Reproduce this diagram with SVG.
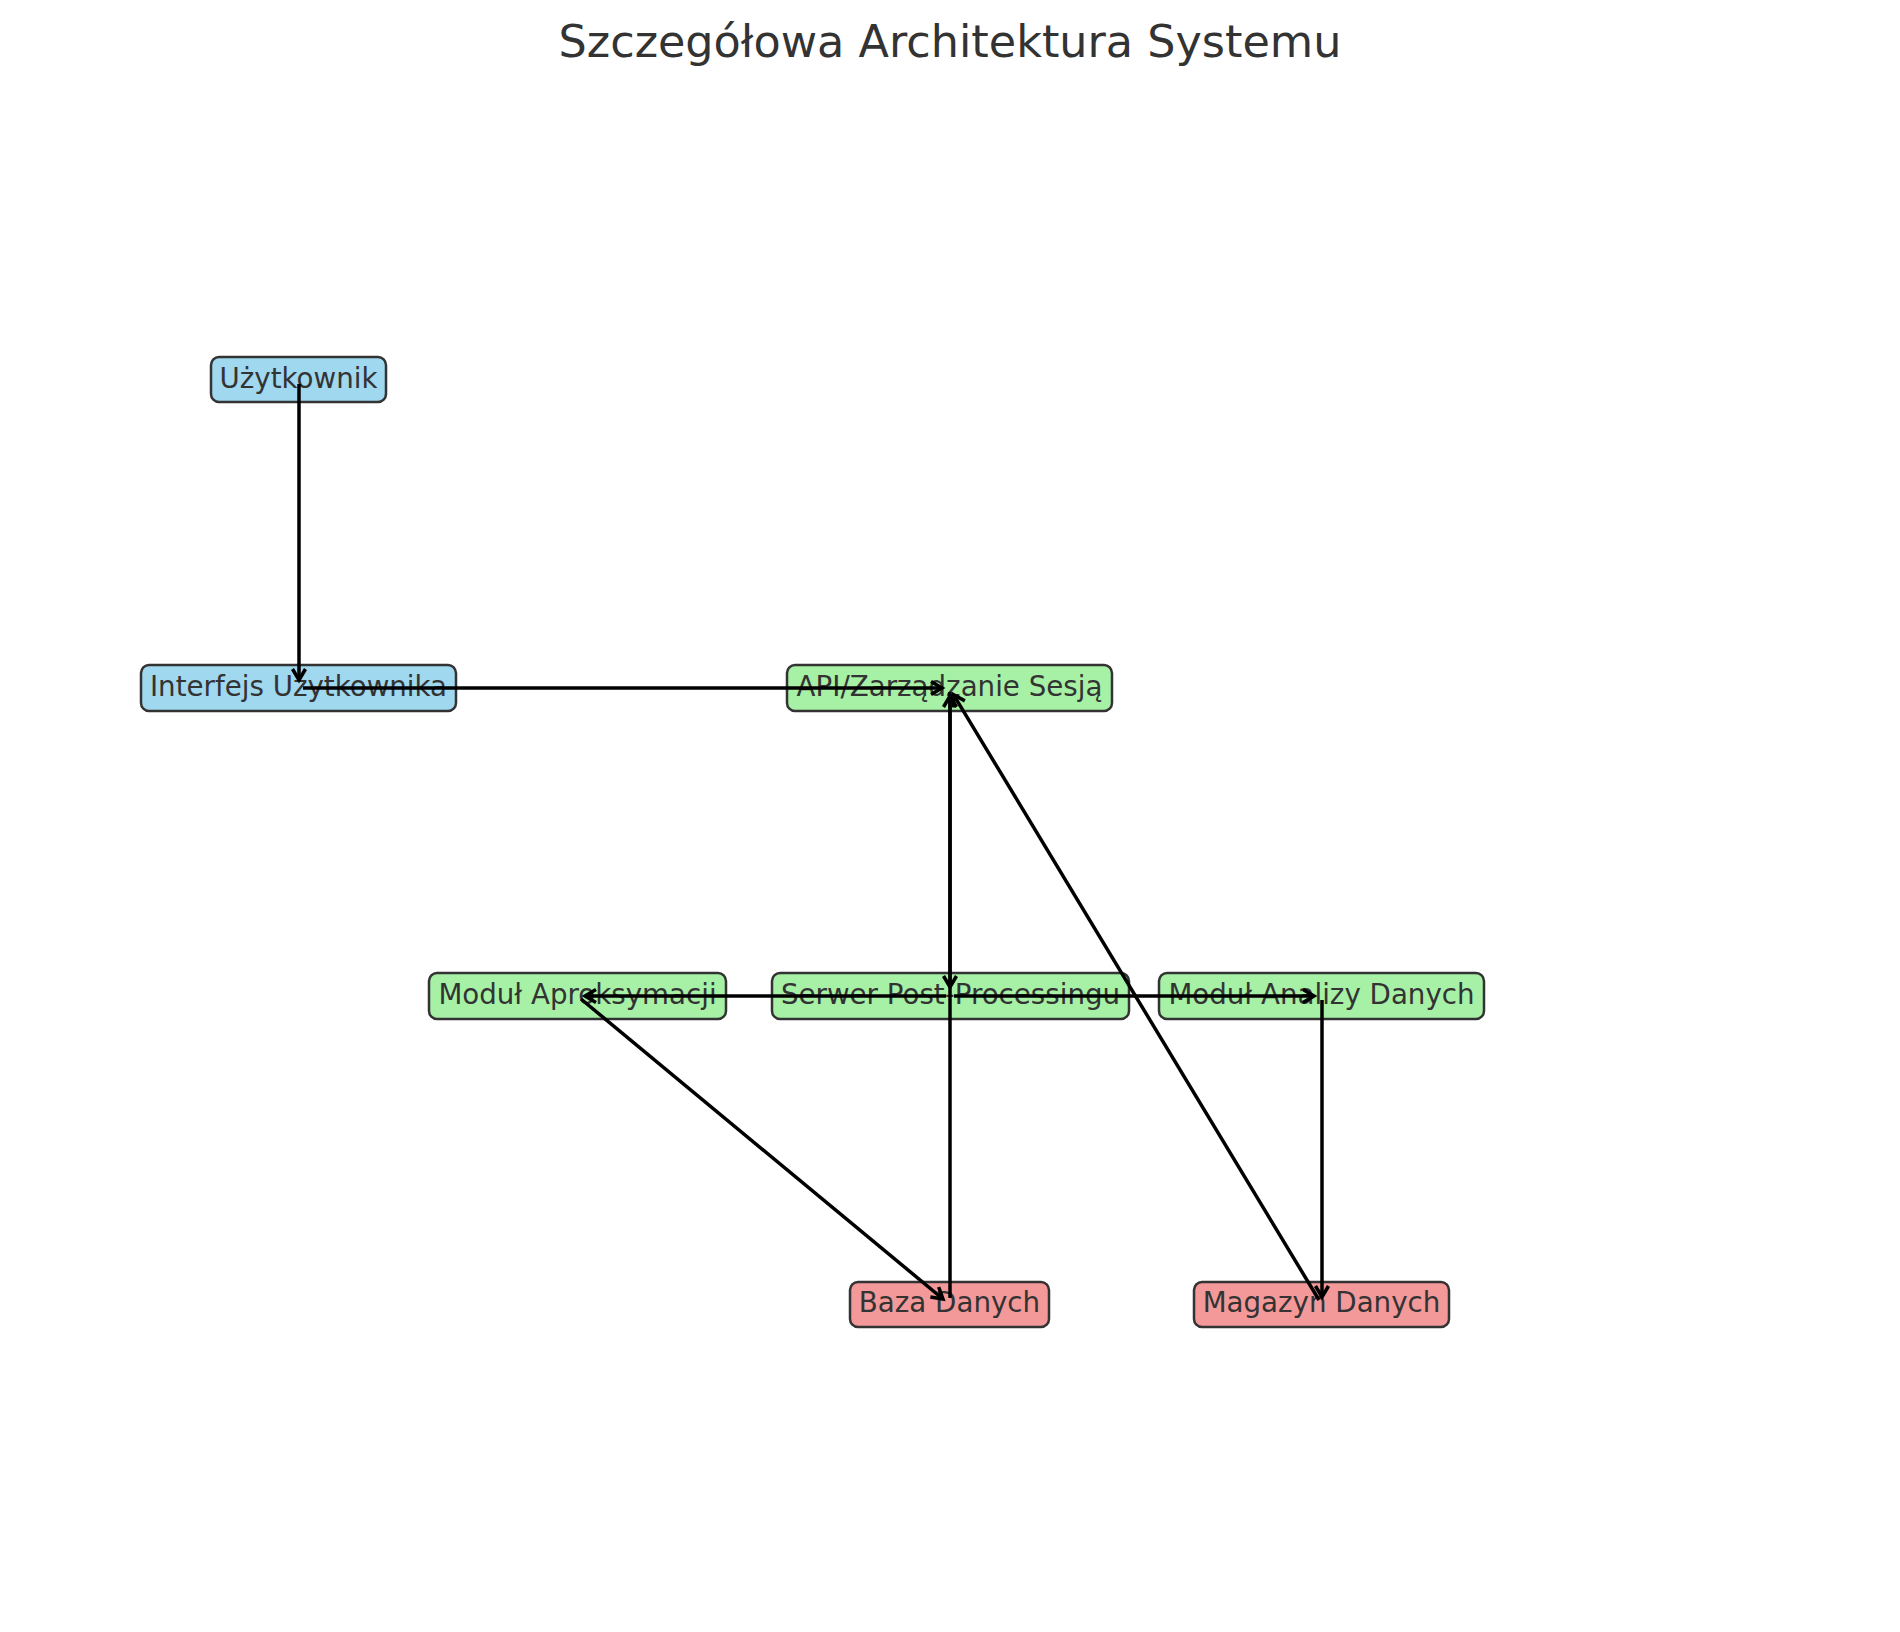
<svg xmlns="http://www.w3.org/2000/svg" width="1900" height="1632" viewBox="0 0 1900 1632">
<style>
.box{stroke:#333333;stroke-width:2.5}
.blue{fill:#9fd8ef}
.green{fill:#a6f1a6}
.red{fill:#f39999}
.lbl{font-family:"DejaVu Sans",sans-serif;font-size:27.7px;fill:#333333;text-anchor:middle}
.title{font-family:"DejaVu Sans",sans-serif;font-size:44.5px;fill:#333333;text-anchor:middle}
.edge{stroke:#000;stroke-width:3.5;fill:none;marker-end:url(#arr)}
</style>
<defs>
<marker id="arr" markerUnits="userSpaceOnUse" markerWidth="20" markerHeight="20" viewBox="-14 -10 20 20" refX="0" refY="0" orient="auto">
<path d="M -11 -6.5 L 0 0 L -11 6.5" fill="none" stroke="#000" stroke-width="3.5"/>
</marker>
</defs>
<rect width="1900" height="1632" fill="#ffffff"/>
<text class="title" x="950" y="57">Szczegółowa Architektura Systemu</text>
<g id="n-uzytkownik"><rect class="box blue" x="211" y="357" width="175" height="45" rx="8"/><text class="lbl" x="298.5" y="388">Użytkownik</text></g>
<g id="n-interfejs"><rect class="box blue" x="141" y="665" width="315" height="46" rx="8"/><text class="lbl" x="298.5" y="696">Interfejs Użytkownika</text></g>
<g id="n-api"><rect class="box green" x="787" y="665" width="325" height="46" rx="8"/><text class="lbl" x="949.5" y="696">API/Zarządzanie Sesją</text></g>
<g id="n-aproks"><rect class="box green" x="429" y="973" width="297" height="46" rx="8"/><text class="lbl" x="577.5" y="1004">Moduł Aproksymacji</text></g>
<g id="n-serwer"><rect class="box green" x="772" y="973" width="357" height="46" rx="8"/><text class="lbl" x="950.5" y="1004">Serwer Post-Processingu</text></g>
<g id="n-analiza"><rect class="box green" x="1159" y="973" width="325" height="46" rx="8"/><text class="lbl" x="1321.5" y="1004">Moduł Analizy Danych</text></g>
<g id="n-baza"><rect class="box red" x="850" y="1282" width="199" height="45" rx="8"/><text class="lbl" x="949.5" y="1312">Baza Danych</text></g>
<g id="n-magazyn"><rect class="box red" x="1194" y="1282" width="255" height="45" rx="8"/><text class="lbl" x="1321.5" y="1312">Magazyn Danych</text></g>
<g id="connectors">
<line class="edge" x1="299" y1="384" x2="299" y2="680"/>
<line class="edge" x1="303" y1="688" x2="942" y2="688"/>
<line class="edge" x1="950" y1="692" x2="950" y2="987"/>
<line class="edge" x1="950" y1="1298" x2="950" y2="696"/>
<line class="edge" x1="1319" y1="1300" x2="953.6" y2="694.8"/>
<line class="edge" x1="1322" y1="1000" x2="1322" y2="1297"/>
<line class="edge" x1="946" y1="996" x2="585" y2="996"/>
<line class="edge" x1="954" y1="996" x2="1314" y2="996"/>
<line class="edge" x1="581" y1="999" x2="943" y2="1299"/>
</g>
</svg>
